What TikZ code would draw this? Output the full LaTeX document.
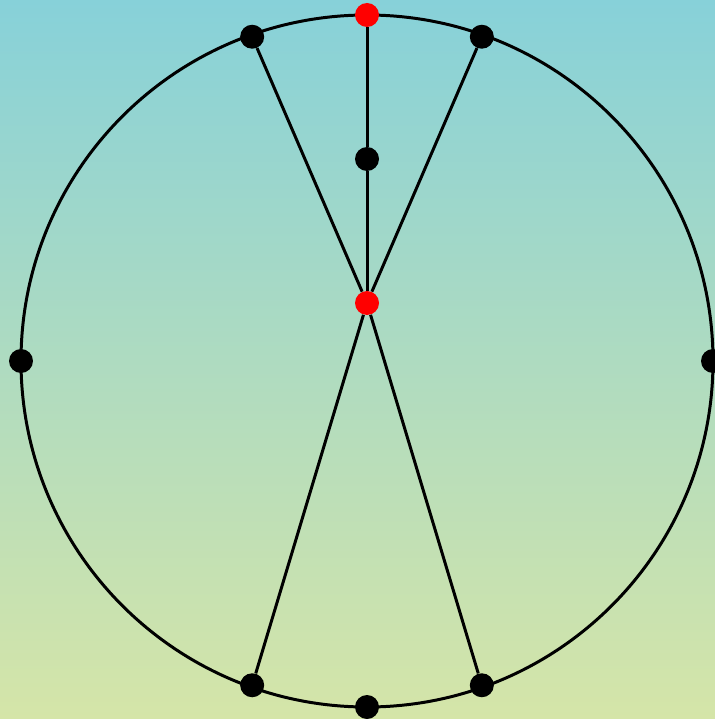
\documentclass[tikz,border=0pt]{standalone}
\usepackage{tikz}
\usetikzlibrary{calc}
\definecolor{skyTop}{HTML}{87D1D9}
\definecolor{meadowBot}{HTML}{D5E5A8}
\tikzset{
  vtx/.style={circle, fill=black, inner sep=0pt, minimum size=0.48cm},
  hot/.style={vtx, fill=red},
  edge/.style={line width=1.7pt, black}
}
\begin{document}
\begin{tikzpicture}[x=0.02cm, y=-0.02cm]
  % background, pixel frame 715 x 719
  \shade[top color=skyTop, bottom color=meadowBot] (0,0) rectangle (715,719);
  \useasboundingbox (0,0) rectangle (715,719);
  \def\rr{346}
  \def\rs{344}
  \coordinate (O) at (367,361);
  % outer circle
  \draw[edge] (O) circle[radius=\rr];
  % vertices on the circle (angles measured with y downward)
  \node[hot] (t)  at ($(O)+(270:\rr)$) {};
  \node[vtx] (tl) at ($(O)+(250.5:\rs)$) {};
  \node[vtx] (tr) at ($(O)+(289.5:\rs)$) {};
  \node[vtx] (l)  at ($(O)+(180:\rr)$) {};
  \node[vtx] (r)  at ($(O)+(0:\rr)$) {};
  \node[vtx] (bl) at ($(O)+(109.5:\rs)$) {};
  \node[vtx] (br) at ($(O)+(70.5:\rs)$) {};
  \node[vtx] (b)  at ($(O)+(90:\rr)$) {};
  % inner vertices
  \node[vtx] (m) at (367,159) {};
  \node[hot] (c) at (367,303) {};
  % spokes
  \draw[edge] (t) -- (m);
  \draw[edge] (m) -- (c);
  \foreach \p in {tl,tr,bl,br}
    \draw[edge] (c) -- (\p);
\end{tikzpicture}
\end{document}
